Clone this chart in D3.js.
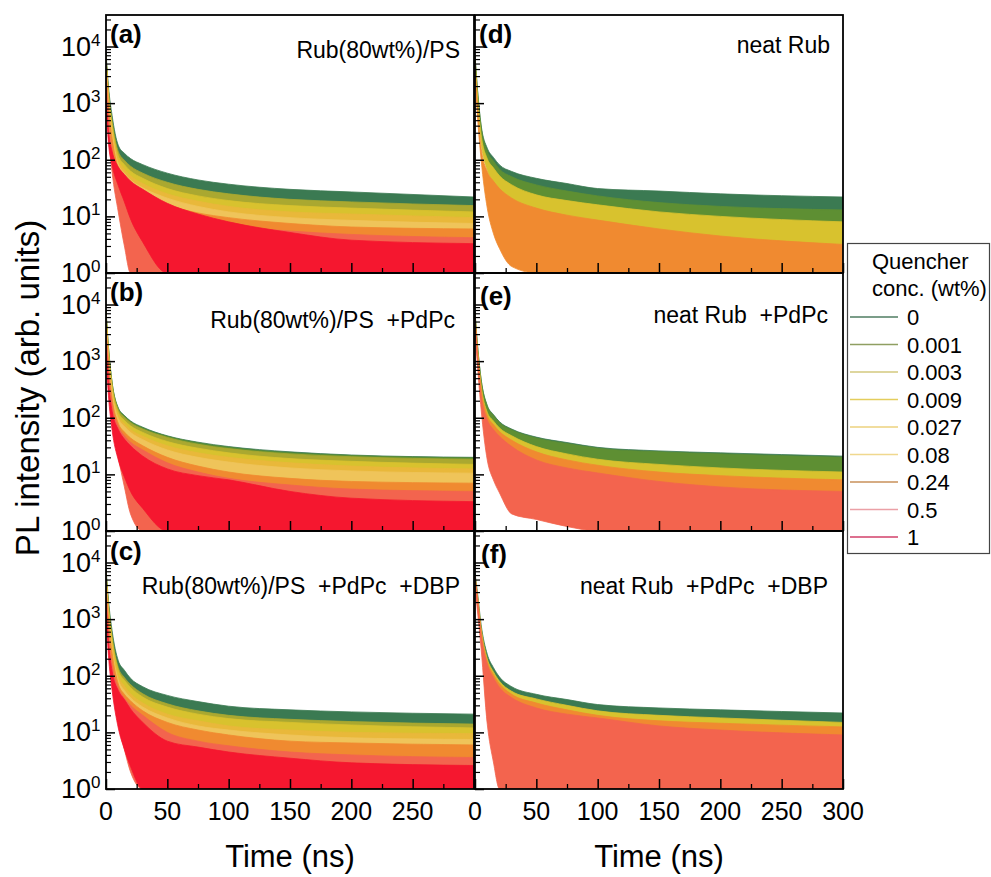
<!DOCTYPE html>
<html><head><meta charset="utf-8">
<script src="https://cdn.jsdelivr.net/npm/d3@7"></script>
<style>
body{margin:0;background:#fff}
svg{display:block}
text{font-family:"Liberation Sans",Arial,sans-serif;fill:#000}
</style>
</head><body>
<svg id="chart" width="991" height="877"></svg>
<script>
// ---------------- data ----------------
const times = [0, 2, 5, 10, 15, 20, 30, 50, 75, 100, 150, 200, 300];
const concentrations = ["0", "0.001", "0.003", "0.009", "0.027", "0.08", "0.24", "0.5", "1"];
const seriesColors = ["#3b7a52", "#5e8f33", "#aaa830", "#d8c22e", "#e9b83a", "#efc45a", "#f08a30", "#f3644e", "#f5172f"];
const legendColors = ["#4f7d62", "#8f9f62", "#d3c97e", "#e4cd5c", "#ecd27e", "#f0d88e", "#c9915a", "#eba0a6", "#d2406a"];
const panelLabels = ["(a)", "(b)", "(c)", "(d)", "(e)", "(f)"];
const panelTitles = ["Rub(80wt%)/PS", "Rub(80wt%)/PS  +PdPc", "Rub(80wt%)/PS  +PdPc  +DBP",
                     "neat Rub", "neat Rub  +PdPc", "neat Rub  +PdPc  +DBP"];
const yTickExponents = [0, 1, 2, 3, 4];
const xTicksMajor = [0, 50, 100, 150, 200, 250, 300];
const xTicksMinor = [25, 75, 125, 175, 225, 275];
const xLabelsLeft = ["0", "50", "100", "150", "200", "250"];
const xLabelsRight = ["0", "50", "100", "150", "200", "250", "300"];

// upper / lower envelopes of each PL trace (counts), one row per concentration
const panelA_hi = [
 [8000,2000,600,180,130,105,82,58,44,37,30,27,22],
 [6800,1600,450,133,93,73,55,38,28.5,23.5,19,17,14.5],
 [7000,1650,470,140,98,77,58,40,30,25,20,18,15.5],
 [6500,1450,410,118,82,63,47,31,23,19,15.5,14,12],
 [6000,1250,350,100,68,52,38,25,18.5,15,12,11,9.5],
 [5500,1100,300,85,58,44,32,21,15,12,9.5,8.5,7.5],
 [5000,900,240,70,47,35,25,16,11.5,9.5,7.5,6.5,6],
 [3000,500,150,62,42,32,23,13,9,7,5.5,4.8,4.2],
 [1500,320,140,75,55,42,30,17,11,8,5.2,3.8,3.3]
];
const panelA_lo = [
 [6000,1500,430,125,88,70,54,37,28,23,18,16,13],
 [5100,1230,330,93,63,48,36,23.5,17,14,11,9.8,8.6],
 [5000,1200,320,90,60,46,34,22,16,13,10,9,8],
 [4700,1050,280,76,50,37,27,16.5,12,9.5,7.5,6.8,6],
 [4300,900,235,62,40,29,20,12,8,6.5,5,4.5,4],
 [3900,780,200,50,32,23,15,8,5.5,4.5,3.5,3.2,3],
 [3500,620,150,38,22,15,9,4.5,3,2.5,2,1.8,1.6],
 [2000,300,60,12,3,1,1,1,1,1,1,1,1],
 [1000,200,80,35,18,9,3.5,1,1,1,1,1,1]
];
const panelB_hi = [
 [8000,1800,420,150,110,88,68,48,37,31,25,22,20],
 [7800,1750,410,146,107,86,66,47,36,30,24,21.5,19.5],
 [7500,1650,390,140,102,82,63,45,34,28.5,23,20.5,18.5],
 [7000,1500,350,125,90,72,55,38,29,24,19,17,15],
 [6500,1350,310,110,79,62,47,32,24,20,16,14,12.5],
 [6000,1200,280,98,70,55,41,27,20,16.5,13,11.5,10.5],
 [5000,950,220,80,56,44,32,20,14,11,8.5,7.5,7],
 [3500,700,170,70,48,37,27,16,11,8.5,6.5,5.5,5],
 [2000,420,130,62,42,32,21,12.5,9.5,8,5,3.8,3.3]
];
const panelB_lo = [
 [6000,1350,300,105,74,58,44,30,22,18,14,12.5,11],
 [5800,1300,290,100,72,56,42,29,21,17,13.5,12,10.5],
 [5500,1200,275,95,68,52,39,27,19.5,16,12.5,11,9.5],
 [5100,1100,240,82,57,44,33,21,15,12,9,8,7],
 [4700,950,210,70,48,36,26,16,11,8.5,6.5,5.5,5],
 [4300,850,185,60,40,30,21,12.5,8,6,4.5,4,3.5],
 [3500,650,140,42,24,15,8,3,1.5,1,1,1,1],
 [2400,450,90,20,6,2,1,1,1,1,1,1,1],
 [1400,250,60,18,9,5,2.5,1,1,1,1,1,1]
];
const panelC_hi = [
 [8000,2200,620,185,125,90,64,45,35,29,25,23,21],
 [7000,1750,470,136,90,68,46,31,23,19.5,16.5,15,13.5],
 [7200,1800,480,140,93,70,48,32,24,20,17,15.5,14],
 [6800,1650,440,125,83,62,42,28,21,17.5,15,13.5,12],
 [6200,1400,360,100,66,48,33,21,16,13,11,10,9.5],
 [5600,1200,300,85,55,41,28,18,13,11,9,8,7.5],
 [5000,1000,250,72,47,36,24,15,11,9,7,6.5,6],
 [3500,600,160,62,40,30,20,10,7,5.8,4.5,4,3.6],
 [2000,400,120,55,38,26,15,7,5.5,4.5,3.5,2.9,2.6]
];
const panelC_lo = [
 [6000,1650,450,130,85,62,44,30,22,18,15,13.5,12],
 [5300,1320,350,95,62,46,31,20,14,11.5,9,8,7.5],
 [5200,1300,340,92,60,44,30,19,13.5,11,8.5,7.5,7],
 [4900,1200,310,80,52,38,25,15.5,11,9,7,6,5.5],
 [4400,1000,250,62,38,27,18,10.5,7.5,6,4.5,4,3.5],
 [4000,850,200,50,30,21,13,7,4.5,3.5,2.5,2.2,2],
 [3500,700,160,40,22,14,8,3.5,2,1.5,1.2,1,1],
 [2400,380,80,15,5,2,1,1,1,1,1,1,1],
 [1300,230,55,12,5,2.5,1,1,1,1,1,1,1]
];
const panelD_hi = [
 [7000,1800,410,160,110,81,62,47,38,31,28,25,22],
 [6800,1700,380,140,95,68,50,36,28,23,17.5,15,13],
 null,
 [6200,1400,280,105,72,52,36,24,19,16,12,10,8],
 null,
 null,
 [5000,900,160,62,42,31,21,14,10.5,8.6,6,4.5,3.2],
 null,
 null
];
const panelD_lo = [
 [5200,1300,290,110,74,54,40,28,22,18,15,13,11.5],
 [5000,1250,270,92,60,43,30,20,14.5,11.5,9,7.5,6.5],
 null,
 [4600,1000,200,65,40,28,17,9,5,4,3,2.5,2.2],
 null,
 null,
 [3500,600,100,14,5,2.7,1.3,1,1,1,1,1,1],
 null,
 null
];
const panelE_hi = [
 [7500,2000,480,165,114,85,63,45.5,36.5,30,26,24,21],
 [7300,1950,470,160,110,82,61,44,35,29,25,23,20],
 null,
 [6800,1750,380,125,88,66,48,31,23,18.5,15,13,11],
 null,
 null,
 [6400,1600,330,110,76,57,40,25,18,14.5,11,9.5,8],
 [5600,1300,250,92,62,47,31,18,13,10.6,7.5,6,5],
 null
];
const panelE_lo = [
 [5500,1450,320,105,72,52,37,26,20,16,13,12,10],
 [5400,1400,340,110,76,55,40,28,21,17.5,14,12.5,11],
 null,
 [5000,1250,250,78,52,38,27,16,11,8.5,6.5,5.5,5],
 null,
 null,
 [4600,1100,220,66,42,30,20,10,6.5,5,3.5,3,2.5],
 [3800,850,140,18,8,4.7,2,1.6,1.2,1,1,1,1],
 null
];
const panelF_hi = [
 [6500,3000,800,240,140,95,64,47,38,31,27,25,22],
 null,
 null,
 [6000,2700,700,200,118,80,53,39,30,24,20,18,15],
 null,
 null,
 [5800,2500,620,180,105,72,47,33,25,20,16,14.5,12.5],
 [5500,2200,520,160,92,62,41,27,21,18,13,11,9],
 null
];
const panelF_lo = [
 [5000,2300,600,170,98,65,43,31,24,19.5,17,15,13.5],
 null,
 null,
 [4500,2000,500,135,76,50,33,22,17,13,11,9.5,8],
 null,
 null,
 [4200,1800,430,115,62,40,26,16,11,8.5,7,6,5.5],
 [3800,1400,300,14,3,1,1,1,1,1,1,1,1],
 null
];

// ---------------- layout ----------------
const svg = d3.select("#chart");
const colX = [106, 475], colW = 368;
const rowY = [15, 273, 531], rowH = 258;
const yDomain = [1, 36000];

const panels = [
 {col:0,row:0,hi:panelA_hi,lo:panelA_lo,tx:460,ty:58,lx:110,ly:43},
 {col:0,row:1,hi:panelB_hi,lo:panelB_lo,tx:455,ty:328,lx:110,ly:301},
 {col:0,row:2,hi:panelC_hi,lo:panelC_lo,tx:460,ty:594,lx:110,ly:560},
 {col:1,row:0,hi:panelD_hi,lo:panelD_lo,tx:830,ty:53,lx:479,ly:43},
 {col:1,row:1,hi:panelE_hi,lo:panelE_lo,tx:828,ty:323,lx:480,ly:305},
 {col:1,row:2,hi:panelF_hi,lo:panelF_lo,tx:828,ty:594,lx:481,ly:563}
];

const minorVals = [];
for (let e = 0; e <= 4; e++) for (let k = 2; k <= 9; k++) {
  const v = k * Math.pow(10, e);
  if (v < yDomain[1]) minorVals.push(v);
}
const majorVals = yTickExponents.map(e => Math.pow(10, e));

panels.forEach((p, i) => {
  const x0 = colX[p.col], y0 = rowY[p.row];
  const x = d3.scaleLinear().domain([0, 300]).range([x0, x0 + colW]);
  const y = d3.scaleLog().domain(yDomain).range([y0 + rowH, y0]).clamp(true);
  const g = svg.append("g");
  const clipId = "clip" + i;
  g.append("clipPath").attr("id", clipId).append("rect")
    .attr("x", x0).attr("y", y0).attr("width", colW).attr("height", rowH);
  const dg = g.append("g").attr("clip-path", `url(#${clipId})`);
  const area = d3.area()
    .x(d => x(d.t)).y0(d => y(d.lo)).y1(d => y(d.hi))
    .curve(d3.curveMonotoneX);
  p.hi.forEach((hiArr, s) => {
    if (!hiArr) return;
    const loArr = p.lo[s];
    const pts = times.map((t, j) => ({t: t, hi: hiArr[j], lo: loArr[j]}));
    dg.append("path").datum(pts).attr("d", area)
      .attr("fill", seriesColors[s]).attr("stroke", seriesColors[s]).attr("stroke-width", 0.8);
  });

  // axes (ticks inward)
  g.append("g").attr("transform", `translate(${x0},0)`)
    .call(d3.axisRight(y).tickValues(majorVals).tickSize(9).tickFormat(""))
    .call(a => a.select(".domain").remove())
    .selectAll("line").attr("stroke", "#000").attr("stroke-width", 1.5);
  g.append("g").attr("transform", `translate(${x0},0)`)
    .call(d3.axisRight(y).tickValues(minorVals).tickSize(5).tickFormat(""))
    .call(a => a.select(".domain").remove())
    .selectAll("line").attr("stroke", "#000").attr("stroke-width", 1.2);
  g.append("g").attr("transform", `translate(0,${y0 + rowH})`)
    .call(d3.axisTop(x).tickValues(xTicksMajor).tickSize(10).tickFormat(""))
    .call(a => a.select(".domain").remove())
    .selectAll("line").attr("stroke", "#000").attr("stroke-width", 1.5);
  g.append("g").attr("transform", `translate(0,${y0 + rowH})`)
    .call(d3.axisTop(x).tickValues(xTicksMinor).tickSize(5).tickFormat(""))
    .call(a => a.select(".domain").remove())
    .selectAll("line").attr("stroke", "#000").attr("stroke-width", 1.3);

  g.append("rect").attr("x", x0).attr("y", y0).attr("width", colW).attr("height", rowH)
    .attr("fill", "none").attr("stroke", "#000").attr("stroke-width", 1.8);

  // y tick labels (left column)
  if (p.col === 0) {
    yTickExponents.forEach(e => {
      const yy = y(Math.pow(10, e));
      g.append("text").attr("x", 91).attr("y", yy + 9)
        .attr("text-anchor", "end").style("font-size", "27px").text("10");
      g.append("text").attr("x", 91).attr("y", yy - 1)
        .style("font-size", "17px").text(String(e));
    });
  }
  // x tick labels (bottom row)
  if (p.row === 2) {
    const labs = p.col === 0 ? xLabelsLeft : xLabelsRight;
    labs.forEach((l, j) => {
      g.append("text").attr("x", x(xTicksMajor[j])).attr("y", y0 + rowH + 31)
        .attr("text-anchor", "middle").style("font-size", "25px").text(l);
    });
  }
  // panel texts
  g.append("text").attr("x", p.lx).attr("y", p.ly)
    .style("font-size", "26px").style("font-weight", "bold").text(panelLabels[i]);
  g.append("text").attr("x", p.tx).attr("y", p.ty).attr("text-anchor", "end")
    .style("font-size", "23px").style("white-space", "pre").text(panelTitles[i]);
});

// axis titles
svg.append("text").attr("transform", "translate(39,388) rotate(-90)")
  .attr("text-anchor", "middle").style("font-size", "33px").text("PL intensity (arb. units)");
svg.append("text").attr("x", colX[0] + colW / 2).attr("y", 867)
  .attr("text-anchor", "middle").style("font-size", "31px").text("Time (ns)");
svg.append("text").attr("x", colX[1] + colW / 2).attr("y", 867)
  .attr("text-anchor", "middle").style("font-size", "31px").text("Time (ns)");

// legend
const lg = svg.append("g");
lg.append("rect").attr("x", 847.5).attr("y", 243.5).attr("width", 142).attr("height", 310)
  .attr("fill", "#fff").attr("stroke", "#444").attr("stroke-width", 1.2);
lg.append("text").attr("x", 872).attr("y", 269).style("font-size", "22px").text("Quencher");
lg.append("text").attr("x", 872).attr("y", 296).style("font-size", "22px").text("conc. (wt%)");
const legendY = d3.scaleLinear().domain([0, 8]).range([317, 537]);
concentrations.forEach((c, i) => {
  const yy = legendY(i);
  lg.append("line").attr("x1", 850).attr("x2", 898).attr("y1", yy).attr("y2", yy)
    .attr("stroke", legendColors[i]).attr("stroke-width", 1.3);
  lg.append("text").attr("x", 907).attr("y", yy + 8).style("font-size", "22px").text(c);
});
</script>
</body></html>
